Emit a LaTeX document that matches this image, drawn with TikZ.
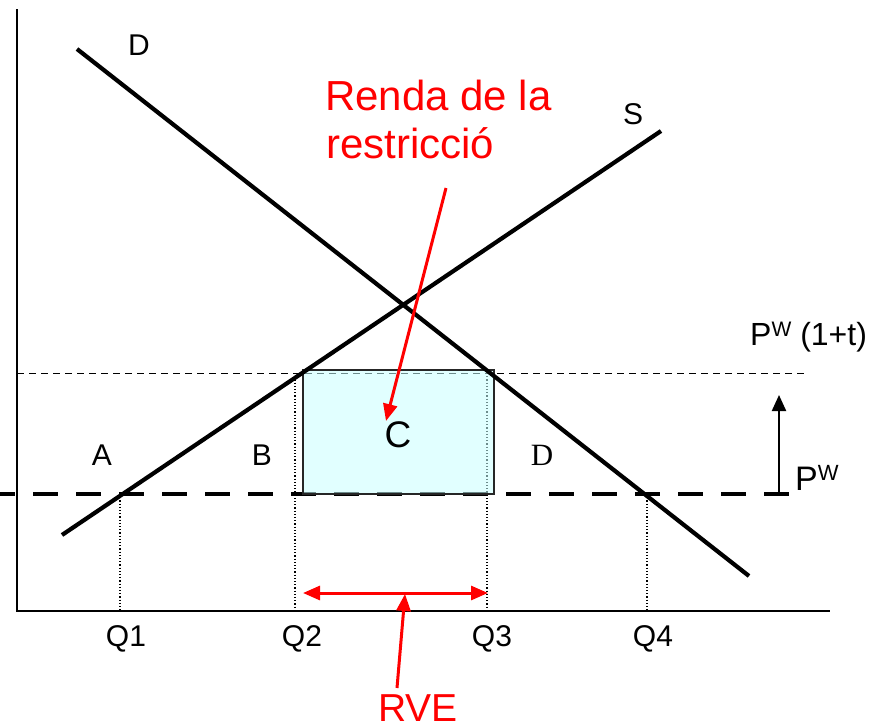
\documentclass[tikz,border=0pt]{standalone}
\usepackage{fontspec}
\setmainfont{Liberation Sans}
\newfontfamily\serifD{Liberation Serif}
\usetikzlibrary{arrows.meta}
\definecolor{boxfill}{RGB}{200,255,255}
\begin{document}
\begin{tikzpicture}[x=1pt,y=-1pt,
  curve/.style={line width=4.2pt},
  axisline/.style={line width=2pt},
  guide/.style={line width=1.2pt, dotted},
  lbl/.style={font=\fontsize{30}{30}\selectfont, anchor=base, inner sep=0pt},
  redlbl/.style={text=red, inner sep=0pt, anchor=base west, font=\fontsize{42}{42}\selectfont},
  redarrow/.style={red, line width=3pt, -{Triangle[length=17pt,width=14pt]}},
  rvetips/.style={red, line width=3pt, {Triangle[length=17pt,width=14pt]}-{Triangle[length=17pt,width=14pt]}},
  pwline/.style={line width=4.5pt, dash pattern=on 25pt off 18pt, dash phase=10pt},
  tline/.style={line width=1pt, dash pattern=on 7pt off 5pt},
  rectbox/.style={draw=black!85, line width=1.6pt, fill=boxfill, fill opacity=0.55},
]
\useasboundingbox (0,0) rectangle (887,726);
% axes
\coordinate (ytop) at (17,9);
\coordinate (orig) at (17,612);
\coordinate (xend) at (830,611);
\draw[axisline] (ytop) -- (orig);
\draw[line width=1.6pt] (17,611) -- (xend);
% price lines
\coordinate (pw0) at (0,494);
\coordinate (pw1) at (805,494);
\coordinate (pt0) at (17,373);
\coordinate (pt1) at (805,373);
\draw[pwline] (pw0) -- (pw1);
\draw[tline] (pt0) -- (pt1);
% guides
\coordinate (q1t) at (120,494); \coordinate (q1b) at (120,612);
\coordinate (q2t) at (295,373); \coordinate (q2b) at (295,612);
\coordinate (q3t) at (487,373); \coordinate (q3b) at (487,612);
\coordinate (q4t) at (647,494); \coordinate (q4b) at (647,612);
\draw[guide] (q1t) -- (q1b);
\draw[guide] (q2t) -- (q2b);
\draw[guide] (q3t) -- (q3b);
\draw[guide] (q4t) -- (q4b);
% rectangle C
\coordinate (r0) at (303,370);
\coordinate (r1) at (494,494);
\draw[rectbox] (r0) rectangle (r1);
% curves
\coordinate (d0) at (77,49);
\coordinate (d1) at (749,576);
\coordinate (s0) at (62,535);
\coordinate (s1) at (661,131);
\draw[curve] (d0) -- (d1);
\draw[curve] (s0) -- (s1);
% labels
\node[lbl] (Dtop) at (139,55) {D};
\node[lbl] (Slbl) at (633,124) {S};
\node[lbl] (A) at (102,465) {A};
\node[lbl] (B) at (262,465) {B};
\node[lbl, font=\serifD\fontsize{31}{31}\selectfont] (D2) at (542,465) {D};
\node[lbl, font=\fontsize{37}{37}\selectfont] (C) at (398,447) {C};
\node[lbl] (Q1) at (126,646) {Q1};
\node[lbl] (Q2) at (302,646) {Q2};
\node[lbl] (Q3) at (492,646) {Q3};
\node[lbl] (Q4) at (653,646) {Q4};
\node[anchor=base west, inner sep=0pt, font=\fontsize{32}{32}\selectfont] (PWt) at (750,345) {P\raisebox{9pt}{\fontsize{21}{21}\selectfont W} (1+t)};
\node[anchor=base west, inner sep=0pt, font=\fontsize{34}{34}\selectfont] (PW) at (795,490) {P\raisebox{9.5pt}{\fontsize{22}{22}\selectfont W}};
% up arrow
\coordinate (ua0) at (779,494);
\coordinate (ua1) at (779,395);
\draw[line width=2.2pt, -{Triangle[length=16pt,width=14pt]}] (ua0) -- (ua1);
% red texts
\node[redlbl] (renda1) at (325,110) {Renda de la};
\node[redlbl] (renda2) at (326,158) {restricció};
\node[text=red, inner sep=0pt, anchor=base, font=\fontsize{39}{39}\selectfont] (RVE) at (418,721) {RVE};
% red arrows
\coordinate (ra0) at (446,188);
\coordinate (ra1) at (386,421);
\draw[redarrow] (ra0) -- (ra1);
\coordinate (h0) at (303,593);
\coordinate (h1) at (488,593);
\draw[rvetips] (h0) -- (h1);
\coordinate (v0) at (397,688);
\coordinate (v1) at (405,594);
\draw[redarrow] (v0) -- (v1);
\end{tikzpicture}
\end{document}
